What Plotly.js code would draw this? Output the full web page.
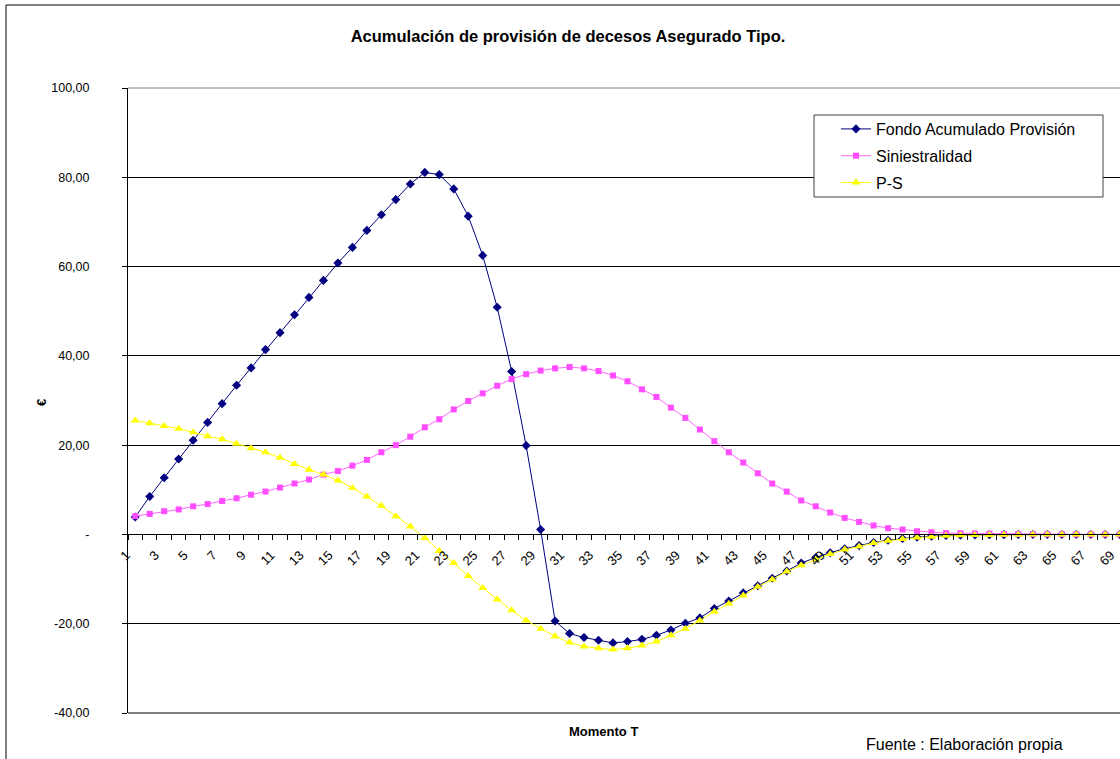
<!DOCTYPE html>
<html>
<head>
<meta charset="utf-8">
<script src="https://cdn.plot.ly/plotly-3.0.1.min.js"></script>
<style>
html,body{margin:0;padding:0;background:#fff;}
#chart{width:1120px;height:759px;}
</style>
</head>
<body>
<div id="chart"></div>
<script>
// Momento T (categories)
const momentos = Array.from({length: 69}, (_, i) => i + 1);

// Series values
const fondoAcumulado = [
  3.9, 8.5, 12.7, 16.9, 21.1, 25.1, 29.3, 33.4, 37.3, 41.4,
  45.2, 49.2, 53.1, 56.9, 60.8, 64.3, 68.1, 71.6, 75.0, 78.5,
  81.1, 80.6, 77.4, 71.3, 62.5, 50.9, 36.5, 19.9, 1.1, -19.4,
  -22.2, -23.1, -23.7, -24.3, -24.0, -23.5, -22.6, -21.4, -19.9, -18.7,
  -16.6, -14.9, -13.1, -11.5, -9.8, -8.2, -6.4, -5.2, -4.1, -3.2,
  -2.5, -1.8, -1.3, -0.9, -0.6, -0.4, -0.25, -0.15, -0.1, -0.07,
  -0.05, -0.03, -0.02, -0.01, -0.01, 0, 0, 0, 0
];
const siniestralidad = [
  4.1, 4.6, 5.2, 5.6, 6.3, 6.8, 7.5, 8.1, 8.9, 9.6,
  10.5, 11.4, 12.3, 13.4, 14.2, 15.4, 16.7, 18.4, 20.0, 21.9,
  24.0, 25.8, 28.0, 29.9, 31.6, 33.3, 34.8, 35.9, 36.7, 37.2,
  37.5, 37.2, 36.6, 35.6, 34.3, 32.5, 30.8, 28.4, 26.1, 23.5,
  20.9, 18.4, 16.1, 13.7, 11.4, 9.6, 7.6, 6.3, 4.9, 3.7,
  2.8, 2.0, 1.4, 1.1, 0.7, 0.5, 0.3, 0.25, 0.2, 0.15,
  0.1, 0.08, 0.05, 0.04, 0.03, 0.02, 0.01, 0.01, 0
];
const primaMenosSin = [
  25.5, 24.9, 24.3, 23.7, 22.9, 22.0, 21.3, 20.3, 19.3, 18.4,
  17.2, 15.8, 14.5, 13.4, 12.1, 10.4, 8.5, 6.4, 4.1, 1.8,
  -0.8, -3.7, -6.4, -9.3, -12.0, -14.6, -17.0, -19.3, -21.1, -22.8,
  -24.2, -25.1, -25.5, -25.8, -25.5, -24.9, -24.0, -22.6, -21.1, -19.3,
  -17.3, -15.5, -13.7, -11.7, -10.1, -8.3, -6.9, -5.6, -4.4, -3.4,
  -2.7, -1.9, -1.4, -1.0, -0.7, -0.5, -0.3, -0.2, -0.15, -0.1,
  -0.08, -0.05, -0.03, -0.02, -0.01, -0.01, 0, 0, 0
];

// Tick labels
const xTickVals = momentos.filter(v => v % 2 === 1);
const xTickText = xTickVals.map(String);
const yTickVals = [-40, -20, 0, 20, 40, 60, 80, 100];
const yTickText = ["-40,00", "-20,00", "-", "20,00", "40,00", "60,00", "80,00", "100,00"];

const seriesNames = ["Fondo Acumulado Provisión", "Siniestralidad", "P-S"];

// Plot area geometry in pixels
const W = 1120, H = 759, L = 128, T = 88, B = 46, R = 0;
const pw = W - L - R, ph = H - T - B;
const px = x => (x - L) / pw;
const py = y => (H - B - y) / ph;

const traces = [
  {
    x: momentos, y: fondoAcumulado, name: seriesNames[0], type: 'scatter', mode: 'lines+markers',
    legendgroup: 'a',
    line: {color: '#000080', width: 1},
    marker: {symbol: 'diamond', size: 7, color: '#000080'}
  },
  {
    x: momentos, y: siniestralidad, name: seriesNames[1], type: 'scatter', mode: 'lines+markers',
    legendgroup: 'b',
    line: {color: '#FF66FF', width: 1},
    marker: {symbol: 'square', size: 6, color: '#FF4DFF'}
  },
  {
    x: momentos, y: primaMenosSin, name: seriesNames[2], type: 'scatter', mode: 'lines+markers',
    legendgroup: 'c',
    line: {color: '#FFFF00', width: 1},
    marker: {symbol: 'triangle-up', size: 8, color: '#FFFF00'}
  }
];

const fontFam = 'Liberation Sans, Arial, sans-serif';

const layout = {
  width: W, height: H,
  margin: {l: L, r: R, t: T, b: B, pad: 0},
  paper_bgcolor: '#fff', plot_bgcolor: '#fff',
  font: {family: fontFam, color: '#000', size: 12},
  title: {
    text: '<b>Acumulación de provisión de decesos Asegurado Tipo.</b>',
    font: {family: fontFam, size: 16.5, color: '#000'},
    x: 568 / W, xanchor: 'center', xref: 'container',
    y: 1 - 36 / H, yanchor: 'middle', yref: 'container'
  },
  xaxis: {
    type: 'linear',
    range: [0.5, 69.02],
    anchor: 'free', position: 40 / 140,
    showline: true, linecolor: '#000', linewidth: 1,
    showgrid: false, zeroline: false,
    tickmode: 'array', tickvals: xTickVals, ticktext: xTickText,
    ticks: '', tickangle: -45,
    ticklabelstandoff: 7,
    ticklabelshift: -9,
    ticklabeloverflow: 'allow',
    tickfont: {family: fontFam, size: 13, color: '#000'},
    minor: {tickmode: 'linear', tick0: 0.5, dtick: 1, ticks: 'outside', ticklen: 5, tickcolor: '#000', tickwidth: 1, showgrid: false}
  },
  yaxis: {
    range: [-40, 100],
    showline: true, linecolor: '#000', linewidth: 1,
    showgrid: true, gridcolor: '#000', gridwidth: 1,
    zeroline: false,
    tickmode: 'array', tickvals: yTickVals, ticktext: yTickText,
    ticks: 'outside', ticklen: 5, tickcolor: '#000',
    ticklabelstandoff: 30,
    tickfont: {family: fontFam, size: 12.5, color: '#000'}
  },
  showlegend: true,
  legend: {
    x: px(836), y: py(112), xanchor: 'left', yanchor: 'top',
    bgcolor: 'rgba(0,0,0,0)', borderwidth: 0,
    font: {family: fontFam, size: 16, color: '#000'},
    traceorder: 'grouped', tracegroupgap: 3,
    itemwidth: 30
  },
  annotations: [
    {text: '<b>€</b>', xref: 'paper', yref: 'paper', x: px(41), y: py(403), showarrow: false,
     textangle: -90, font: {family: fontFam, size: 13, color: '#000'}, xanchor: 'center', yanchor: 'middle'},
    {text: '<b>Momento T</b>', xref: 'paper', yref: 'paper', x: px(603), y: py(731), showarrow: false,
     font: {family: fontFam, size: 13, color: '#000'}, xanchor: 'center', yanchor: 'middle'},
    {text: 'Fuente : Elaboración propia', xref: 'paper', yref: 'paper', x: px(964), y: py(744), showarrow: false,
     font: {family: fontFam, size: 16, color: '#000'}, xanchor: 'center', yanchor: 'middle'}
  ],
  shapes: [
    {type: 'line', xref: 'paper', yref: 'paper', x0: px(6), x1: px(6), y0: py(5), y1: py(770), line: {color: '#000', width: 1}},
    {type: 'line', xref: 'paper', yref: 'paper', x0: px(6), x1: px(1130), y0: py(5), y1: py(5), line: {color: '#000', width: 1}},
    {type: 'line', xref: 'paper', yref: 'paper', x0: 0, x1: 1, y0: 0, y1: 0, line: {color: '#000', width: 1}, layer: 'below'},
    {type: 'line', xref: 'paper', yref: 'paper', x0: 0, x1: 1, y0: 1, y1: 1, line: {color: '#808080', width: 1}, layer: 'below'},
    {type: 'rect', xref: 'paper', yref: 'paper', x0: px(814), x1: px(1103), y0: py(115), y1: py(197),
     fillcolor: '#fff', line: {color: '#404040', width: 1}, layer: 'above'}
  ]
};

Plotly.newPlot('chart', traces, layout, {displayModeBar: false, staticPlot: true});
</script>
</body>
</html>
